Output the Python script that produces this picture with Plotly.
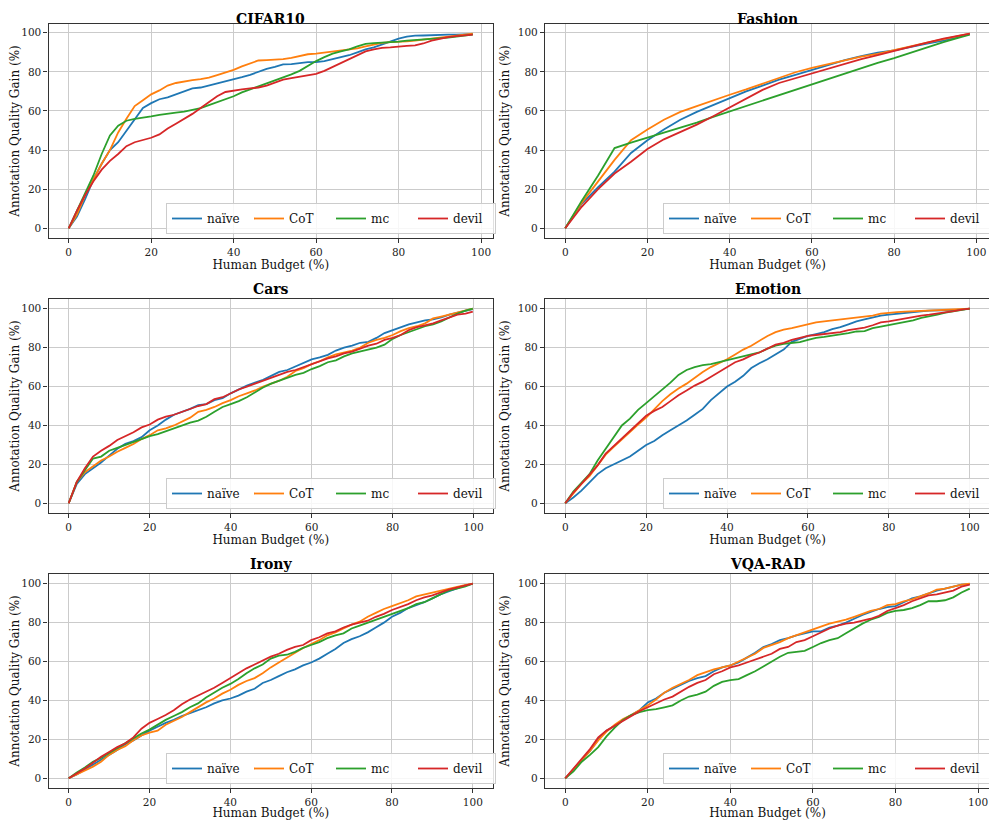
import plotly.graph_objects as go
from plotly.subplots import make_subplots

# ---------------- data ----------------
series_names = ["naïve", "CoT", "mc", "devil"]
colors = ["#1f77b4", "#ff7f0e", "#2ca02c", "#d62728"]
titles = ["CIFAR10", "Fashion", "Cars", "Emotion", "Irony", "VQA-RAD"]

x_step2_98 = list(range(0, 99, 2))
x_step2_100 = list(range(0, 101, 2))
x_cars = list(range(0, 99, 2)) + [99.8]
x_fashion = list(range(0, 97, 4)) + [98.4]

cifar_naive = [0, 6, 15, 25, 33, 40, 44, 50, 56, 61.5, 64, 66, 67, 68.5, 70, 71.5, 72, 73, 74.3, 75,
               76, 77.3, 78.5, 80, 81.5, 82.5, 83.8, 84, 84.5, 85, 85, 85.5, 86.5, 87.5, 88.5, 90, 91.5,
               92.5, 94, 95.5, 97, 98, 98.5, 98.6, 98.8, 99, 99, 99, 99, 99.3]
cifar_cot = [0, 7, 17, 25, 33, 40, 49, 56, 62.5, 65.5, 68.5, 70.5, 73, 74.3, 75.2, 75.8, 76.3, 77, 78.3,
             79.5, 81, 82.8, 84.5, 85.8, 86, 86.2, 86.5, 87.2, 88, 89, 89.3, 89.8, 90.3, 91, 91.5, 92,
             93, 94, 94.8, 95.2, 95.3, 95.6, 96, 96.5, 97, 97.5, 98, 98.5, 99, 99.5]
cifar_mc = [0, 9, 18, 27, 38, 47.5, 52.5, 55, 56, 56.5, 57.2, 58, 58.7, 59.2, 59.7, 60.5, 61.5, 63, 64.5,
            66, 67.5, 69.5, 71, 72.5, 74, 75.5, 77, 78.7, 80.5, 83, 85.5, 87.5, 89.3, 90.5, 91.5, 93,
            94.3, 94.7, 95, 95, 95.5, 96, 96.3, 96.5, 96.7, 97, 97.5, 98, 98.5, 99]
cifar_devil = [0, 9, 17, 24, 30, 34.5, 38, 42, 44, 45, 46.3, 48, 51, 53.5, 56, 58.5, 61.5, 64.5, 67.5,
               69.7, 70.5, 71, 71.5, 72, 73, 74.5, 76, 76.8, 77.5, 78, 79, 80.5, 82.5, 84.5, 86.5, 88.5,
               90.5, 91.5, 92.3, 92.5, 93, 93.3, 93.5, 94.5, 96, 97, 97.8, 98.3, 98.8, 99]

fashion_naive = [0, 12.5, 21, 29, 38.5, 45, 50.5, 55.5, 59.5, 63, 66.5, 70, 73, 76, 78.5, 81, 83.5, 86,
                 88, 89.8, 91, 92.8, 94.5, 96, 98, 99.3]
fashion_cot = [0, 13, 24, 35, 45, 50.5, 55.5, 59.5, 62.5, 65.5, 68.3, 71, 74, 77, 79.8, 82, 84, 86,
               87.8, 89.2, 91, 93, 95, 96.7, 98.5, 99.5]
fashion_mc = [0, 14, 27, 41, 43.8, 46.3, 48.8, 51.3, 54, 57, 59.8, 62.3, 65, 68, 70.7, 73.5, 76.3, 79,
              82, 84.6, 87, 89.8, 92.6, 95.2, 97.6, 99]
fashion_devil = [0, 11, 20, 28, 34, 40.5, 45.5, 49.3, 53, 57.3, 61.8, 66.3, 70.8, 74.3, 76.8, 79.3, 81.8,
                 84.3, 86.5, 88.5, 90.7, 93, 95, 97, 98.8, 99.5]

cars_naive = [0, 10, 15, 18, 21, 24.5, 28, 30.5, 32, 34, 37.5, 40, 43, 45.5, 47, 48.5, 50.5, 51, 53, 54,
              56.5, 58.5, 60.5, 62, 63.5, 65.5, 67.5, 68.5, 70.3, 72, 74, 75, 76.3, 78.5, 80, 81, 82.5,
              83, 85, 87.5, 89, 90.5, 92, 93, 94, 94.5, 95.5, 97, 98, 99, 99.8]
cars_cot = [0, 11, 16, 19, 22, 24, 26.5, 28.5, 30.5, 33, 35, 37.5, 38.5, 40, 42, 44, 47, 48, 49.5, 51.5,
            53, 55, 56.5, 58, 60, 61.5, 63, 65, 68, 69.5, 71.5, 73, 75, 76.5, 77.5, 78.5, 80, 82.5, 84,
            85, 86.5, 88.5, 90, 91, 92.5, 95, 96, 97, 98, 99, 100]
cars_mc = [0, 11, 17, 23, 24, 27, 28.5, 30, 31.5, 33, 34.5, 35.5, 37, 38.5, 40, 41.5, 42.5, 44.5, 47,
           49.5, 51, 52.5, 54.5, 57, 59.5, 61.5, 63, 64.5, 66, 67, 69, 70.5, 72.5, 73.5, 75.5, 77, 78,
           79, 80, 81.5, 84.5, 86.5, 88, 89.5, 91, 92, 93.5, 95.5, 97.5, 99, 100]
cars_devil = [0, 11, 18, 24, 27, 29.5, 32.5, 34.5, 36.5, 39, 40.5, 43, 44.5, 45.5, 47, 48.5, 50, 51,
              53.5, 54.5, 56.5, 58.5, 60, 61.5, 63, 64.5, 66, 67.5, 68.5, 70, 71.5, 73, 74.5, 75.5, 77,
              78, 79.5, 81, 82, 84, 85, 86.5, 89, 90.5, 91.5, 92.5, 94, 95.5, 97, 97.5, 98.5]

emotion_naive = [0, 3, 6.5, 11, 15, 18, 20, 22, 24, 27, 30, 32, 35, 37.5, 40, 42.5, 45.5, 48.5, 53,
                 56.5, 60, 62.5, 65.5, 69.5, 72, 74, 76.5, 79, 83, 84.5, 86, 87, 88, 89.5, 90.5, 92,
                 93.5, 94.5, 95.5, 96.5, 97, 97.5, 98, 98.5, 98.7, 99, 99, 99, 99.3, 99.7, 100]
emotion_cot = [0, 5, 10, 14, 19.5, 25, 29, 33, 37, 40.5, 44, 48.5, 52.5, 56, 59, 61.5, 64.5, 67.5, 70,
               72, 74, 76.5, 79, 81, 83.5, 86, 88, 89.3, 90, 91, 92, 93, 93.5, 94, 94.5, 95, 95.3,
               95.8, 96.5, 97.5, 98, 98.3, 98.5, 98.7, 99, 99, 99.2, 99.4, 99.6, 99.8, 100]
emotion_mc = [0, 6, 10.5, 15, 22, 28, 34, 40, 43.5, 48, 51.5, 55, 58, 62, 66, 68.5, 70, 71, 71.5, 72.5,
              73.5, 74.5, 75.5, 76.5, 77.5, 79.5, 81, 82, 82.5, 82.8, 84, 85, 85.5, 86, 86.8, 87.5,
              88.3, 88.5, 90, 90.8, 91.5, 92.5, 93.3, 94, 95.3, 96, 97, 98, 98.7, 99.3, 100]
emotion_devil = [0, 5.5, 10, 14.5, 19.5, 25.5, 29.5, 33, 37.5, 41, 45, 47.5, 49.5, 52.5, 55.5, 58,
                 60.5, 62.5, 65, 67.5, 70, 72.5, 74, 76, 77.5, 79.5, 81.5, 82.5, 84, 85, 86, 86.5, 87,
                 87.5, 88, 89, 89.7, 90.3, 91.5, 93, 93.5, 94.3, 95, 95.5, 96.5, 97, 97.5, 98, 98.8,
                 99.5, 100]

irony_naive = [0, 2, 4.5, 7, 9.5, 12, 14.5, 17.5, 19.5, 22, 24.5, 26.5, 28.5, 30, 32, 33.5, 35, 36.5,
               38.5, 40, 41, 42.5, 44.5, 46, 49, 50.5, 52.5, 54.5, 56, 58, 59.5, 61.5, 64, 66.5, 69.5,
               71.5, 73, 75, 77.5, 80, 83, 85, 87.5, 89, 90.5, 92.5, 94.5, 96, 97.5, 99, 100]
irony_cot = [0, 2, 4, 6, 8.5, 12, 14.5, 16.5, 19.5, 22, 23.5, 24.5, 27.5, 29.5, 31.5, 34, 36.5, 39,
             41, 43.5, 45.5, 48, 50, 51.5, 54, 57, 59.5, 62, 64.5, 67, 69, 71, 73.5, 75, 77, 79, 80.5,
             83, 85, 87, 88.5, 90, 91.5, 93.5, 94.5, 95.5, 96.5, 97.5, 98.5, 99.3, 100]
irony_mc = [0, 3, 5.5, 8.5, 10.5, 13, 15.5, 18, 20.5, 23, 25, 27.5, 30, 32, 34, 36.5, 38.5, 41.5, 44,
            46.5, 48.5, 51, 54, 56.5, 58.5, 61.5, 63, 63.5, 65, 67, 68.5, 70, 72, 73.5, 74.5, 77, 78.5,
            80, 81.5, 83, 84.5, 86, 87.5, 89.5, 90.5, 92.5, 94.5, 96.5, 97.5, 98.5, 100]
irony_devil = [0, 2.5, 5, 8, 11, 13.5, 16, 18, 21, 25.5, 28.5, 30.5, 32.5, 35, 38, 40.5, 42.5, 44.5,
               46.5, 49, 51.5, 54, 56.5, 58.5, 60.5, 62.5, 64, 66, 67.5, 68.5, 71, 72.5, 74.5, 75.5,
               77.5, 79, 80, 81, 83, 84.5, 86.5, 88, 89.5, 91.5, 93, 94, 95.5, 97, 98, 99, 100]

vqa_naive = [0, 4.5, 9.5, 14, 20, 24.5, 27, 30, 32.5, 35, 39, 41, 44, 46, 48, 50, 51.5, 52.5, 55, 57,
             58, 59.5, 62, 64.5, 67.5, 69, 71, 72, 73.5, 74.5, 75.5, 75.5, 77.5, 78.5, 80, 82, 84,
             85.5, 87, 88, 88.5, 90.5, 92.5, 93.5, 95, 96.5, 97.5, 98.5, 99.5, 99.8]
vqa_cot = [0, 4.5, 9, 14, 19.5, 24, 27.5, 30.5, 32.5, 35, 37.5, 40.5, 44, 46.5, 48.5, 50.5, 53, 54.5,
           56, 57, 58, 60, 62, 64, 67, 68.5, 70, 72, 73.5, 75, 76.5, 78, 79.5, 80.5, 81.5, 83, 84.5,
           86, 87, 89, 89.5, 91, 92, 93.5, 95, 97, 97.5, 98.5, 99.5, 100]
vqa_mc = [0, 3.5, 8.5, 12, 16, 21.5, 26, 30, 32.5, 34, 35, 35.5, 36.5, 37.5, 40, 42, 43, 44.5, 47.5,
          49.5, 50.5, 51, 53, 55, 57.5, 60, 62.5, 64.5, 65, 65.5, 67.5, 69.5, 71, 72, 74.5, 77, 79.5,
          81.5, 83, 85, 86, 86.5, 87.5, 89, 91, 91, 91.5, 93, 95.5, 97.5]
vqa_devil = [0, 5, 10, 15, 21, 24.5, 27, 29.5, 32, 34.5, 36.5, 38.5, 40.5, 42, 44.5, 47, 49, 50.5, 53.5,
             55, 57, 58, 59.5, 61, 62.5, 64, 66.5, 67.5, 70, 71, 73, 75, 77, 78.5, 79.5, 80, 81, 82,
             83.5, 86, 87.5, 89, 91, 92.5, 94, 94.5, 95.5, 96.5, 98.5, 99.5]

panels = [
    (x_step2_98, [cifar_naive, cifar_cot, cifar_mc, cifar_devil]),
    (x_fashion, [fashion_naive, fashion_cot, fashion_mc, fashion_devil]),
    (x_cars, [cars_naive, cars_cot, cars_mc, cars_devil]),
    (x_step2_100, [emotion_naive, emotion_cot, emotion_mc, emotion_devil]),
    (x_step2_100, [irony_naive, irony_cot, irony_mc, irony_devil]),
    (x_step2_98, [vqa_naive, vqa_cot, vqa_mc, vqa_devil]),
]
tick_vals = [0, 20, 40, 60, 80, 100]
x_label = "Human Budget (%)"
y_label = "Annotation Quality Gain (%)"

# ---------------- layout ----------------
# page body has an 8px margin, so the figure is sized / placed to compensate
W, H = 989, 812
FONT = "DejaVu Serif"
col_px = [(40.5, 485), (537, 982)]
row_px = [(16, 230), (291, 505), (566, 780)]
title_px = [10.5, 281, 556]
col_dom = [(a / W, b / W) for a, b in col_px]
row_dom = [(1 - b / H, 1 - a / H) for a, b in row_px]

fig = make_subplots(rows=3, cols=2)

for i, (xs, ys_list) in enumerate(panels):
    r, c = i // 2, i % 2
    leg = "legend" if i == 0 else f"legend{i + 1}"
    for name, col, ys in zip(series_names, colors, ys_list):
        fig.add_trace(go.Scatter(x=xs, y=ys, mode="lines", name=name,
                                 line=dict(color=col, width=1.8), legend=leg,
                                 showlegend=True),
                      row=r + 1, col=c + 1)
    xmax = max(xs)
    ymax = max(max(v) for v in ys_list)
    xpad = 0.05 * xmax
    ypad = 0.05 * ymax
    ax = dict(showline=True, linecolor="#333333", linewidth=1.2, mirror=True,
              ticks="outside", ticklen=4, tickcolor="#333333",
              showgrid=True, gridcolor="#cbcbcb", gridwidth=1, zeroline=False,
              tickfont=dict(family=FONT, size=10.5, color="#222222"),
              tickvals=tick_vals, automargin=False)
    fig.update_xaxes(ax, range=[-xpad, xmax + xpad], domain=col_dom[c],
                     title=dict(text=x_label, font=dict(family=FONT, size=12, color="#111111"),
                                standoff=2),
                     row=r + 1, col=c + 1)
    fig.update_yaxes(ax, range=[-ypad, ymax + ypad], domain=row_dom[r],
                     title=dict(text=y_label, font=dict(family=FONT, size=12, color="#111111"),
                                standoff=5),
                     row=r + 1, col=c + 1)
    x0, x1 = col_dom[c]
    y0, y1 = row_dom[r]
    fig.add_annotation(text=f"<b>{titles[i]}</b>", x=(x0 + x1) / 2, y=1 - title_px[r] / H,
                       xref="paper", yref="paper", xanchor="center", yanchor="middle",
                       showarrow=False, font=dict(family=FONT, size=14, color="#000000"))
    fig.update_layout({leg: dict(orientation="h", x=x1 + 3 / W, y=y0 + 4 / H, xanchor="right",
                                 yanchor="bottom", bgcolor="rgba(255,255,255,0.85)",
                                 bordercolor="#cccccc", borderwidth=1, itemwidth=30,
                                 entrywidth=37,
                                 font=dict(family=FONT, size=12, color="#111111"),
                                 tracegroupgap=0)})

fig.update_layout(width=W, height=H, margin=dict(l=0, r=0, t=0, b=0),
                  paper_bgcolor="white", plot_bgcolor="white",
                  font=dict(family=FONT))

fig.write_html("out.html")
